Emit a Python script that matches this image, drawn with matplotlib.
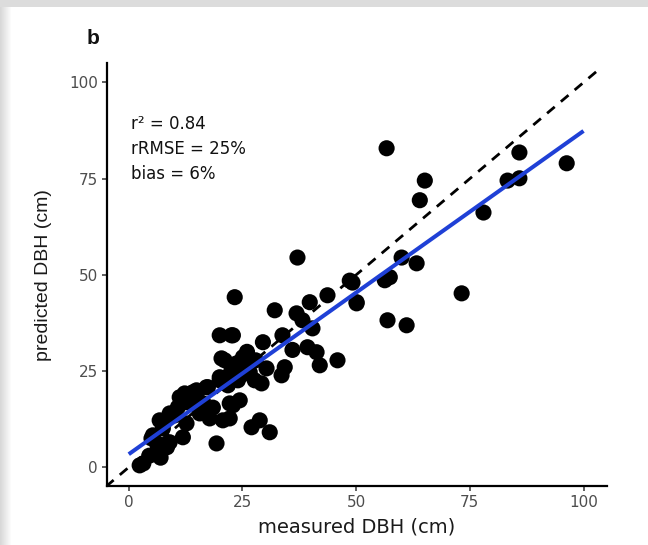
import matplotlib
matplotlib.use("agg")
import matplotlib.pyplot as plt
import numpy as np
from matplotlib.patches import Rectangle

plt.rcParams["font.family"] = ["DejaVu Sans"]

# measured vs predicted DBH (cm) per tree
measured = [
    2.4, 3.2, 6.8, 8.4, 5.3, 7.5, 6.8, 9.0, 10.8, 12.7, 12.3, 14.9, 17.1,
    16.3, 17.8, 12.7, 11.9, 15.6, 20.7, 19.3, 22.2, 20.0, 21.5, 10.1, 5.0,
    6.2, 9.0, 11.2, 14.1, 17.4, 20.0, 20.4, 21.1, 22.6, 25.5, 26.6, 24.0,
    21.8, 27.9, 25.1, 23.7, 27.7, 29.2, 24.4, 22.9, 28.8, 27.0, 31.0, 22.2,
    20.0, 22.6, 23.3, 22.9, 29.5, 33.8, 34.3, 33.6, 30.3, 32.1, 36.9, 38.2,
    39.8, 40.4, 39.3, 41.3, 42.0, 45.9, 43.7, 37.1, 48.6, 49.2, 50.1, 50.1,
    56.3, 57.4, 56.9, 61.1, 60.0, 63.3, 56.7, 64.0, 65.1, 73.2, 78.0, 83.3,
    85.9, 85.9, 96.3, 8.0, 13.5, 18.5, 4.5, 7.0, 15.0, 26.0, 24.8, 36.0,
]
predicted = [
    0.5, 1.0, 3.9, 5.2, 8.3, 10.1, 12.2, 14.0, 15.6, 16.9, 19.2, 20.0, 20.8,
    16.6, 12.7, 11.4, 7.8, 14.0, 12.2, 6.2, 16.6, 22.6, 23.4, 13.5, 7.5,
    6.2, 6.5, 18.2, 19.5, 20.8, 23.4, 28.3, 27.8, 25.2, 26.5, 24.7, 22.6,
    21.3, 27.8, 28.6, 27.0, 22.6, 21.8, 17.4, 16.1, 12.2, 10.4, 9.1, 12.7,
    34.3, 34.3, 44.2, 34.3, 32.5, 34.3, 26.0, 23.9, 25.7, 40.8, 40.0, 38.2,
    42.9, 36.1, 31.2, 29.9, 26.5, 27.8, 44.7, 54.5, 48.5, 48.0, 42.6, 42.9,
    48.6, 49.4, 38.2, 36.9, 54.5, 53.0, 82.9, 69.4, 74.5, 45.2, 66.2, 74.5,
    75.1, 81.8, 79.0, 12.0, 17.5, 15.5, 3.0, 2.5, 18.0, 30.0, 24.0, 30.5,
]

fit_intercept = 3.4
fit_slope = 0.84
stats_lines = ["r\u00b2 = 0.84", "rRMSE = 25%", "bias = 6%"]
ticks = [0, 25, 50, 75, 100]

fig = plt.figure(figsize=(6.48, 5.45), dpi=100)
fig.patch.set_facecolor("white")

# grey screen border along top and left edge
fig.patches.append(Rectangle((0, 1 - 7 / 545), 1, 7 / 545, transform=fig.transFigure,
                             facecolor="#dcdcdc", edgecolor="none", zorder=0))
for i in range(11):
    fig.patches.append(Rectangle((i / 648, 0), 1 / 648, 1 - 7 / 545,
                                 transform=fig.transFigure,
                                 facecolor="#d8d8d8", edgecolor="none",
                                 alpha=1 - i / 11, zorder=0))

ax = fig.add_axes([0.165, 0.108, 0.772, 0.776])
ax.set_xlim(-4.8, 105.2)
ax.set_ylim(-4.9, 105.0)

ax.scatter(measured, predicted, s=135, color="black", edgecolors="none", zorder=3)

# 1:1 reference line
line_x = np.array([-5, 103.8])
ax.plot(line_x, line_x, color="black", lw=2.0, dashes=(3.6, 2.9), zorder=4)

# linear fit
fit_x = np.array([0, 100])
ax.plot(fit_x, fit_intercept + fit_slope * fit_x, color="#1f40d6", lw=2.9,
        solid_capstyle="butt", zorder=5)

for i, line in enumerate(stats_lines):
    ax.text(0.6, 89.2 - 6.5 * i, line, fontsize=12, color="#111111",
            ha="left", va="center")

ax.set_xticks(ticks)
ax.set_yticks(ticks)
ax.tick_params(axis="both", direction="out", length=3.5, width=1.1,
               color="#333333", labelcolor="#4d4d4d", labelsize=11, pad=3)
for side in ["top", "right"]:
    ax.spines[side].set_visible(False)
for side in ["left", "bottom"]:
    ax.spines[side].set_linewidth(1.6)
    ax.spines[side].set_color("black")

ax.set_xlabel("measured DBH (cm)", fontsize=14, color="#1a1a1a", labelpad=5)
ax.set_ylabel("predicted DBH (cm)", fontsize=14, color="#1a1a1a", labelpad=12,
              family="Liberation Sans")

fig.text(93 / 648, 1 - 38 / 545, "b", fontsize=15, fontweight="bold",
         ha="center", va="center", color="#111111", family="Liberation Sans")

fig.savefig("out.png", dpi=100)
